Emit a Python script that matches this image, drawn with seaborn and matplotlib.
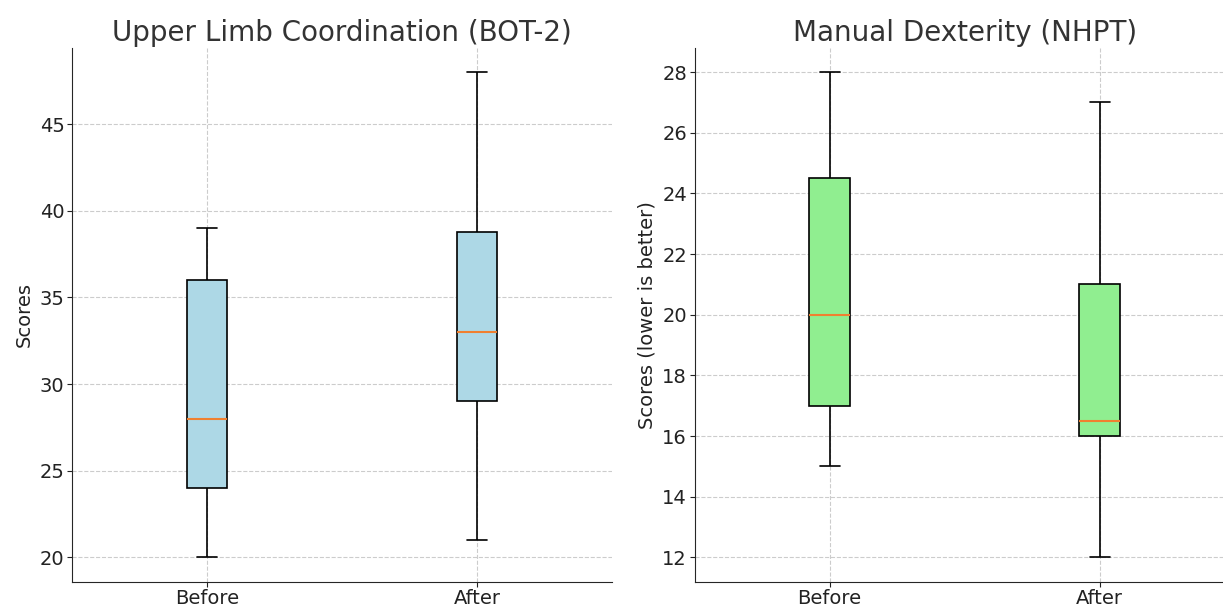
import pandas as pd
import matplotlib
matplotlib.use("Agg")
import matplotlib.pyplot as plt
import seaborn as sns

# values (min, Q1, median, Q3, max per group)
groups = ["Before", "After"]
bot2_before = [20, 24, 28, 36, 39]
bot2_after = [21, 29, 33, 38.75, 48]
nhpt_before = [15, 17, 20, 24.5, 28]
nhpt_after = [12, 16, 16.5, 21, 27]

def to_long(before, after):
    return pd.DataFrame({
        "Time": [groups[0]] * len(before) + [groups[1]] * len(after),
        "Score": before + after,
    })

bot2_df = to_long(bot2_before, bot2_after)
nhpt_df = to_long(nhpt_before, nhpt_after)

sns.set_style("ticks")
plt.rcParams["font.family"] = ["DejaVu Sans"]

fig = plt.figure(figsize=(12.23, 6.06), dpi=100)
ax1 = fig.add_axes([0.059, 0.04, 0.4415, 0.881])
ax2 = fig.add_axes([0.568, 0.04, 0.4415, 0.881])

panels = [
    (ax1, bot2_df, "lightblue", "Upper Limb Coordination (BOT-2)", "Scores"),
    (ax2, nhpt_df, "lightgreen", "Manual Dexterity (NHPT)", "Scores (lower is better)"),
]

for ax, df, col, title, ylab in panels:
    sns.boxplot(x="Time", y="Score", data=df, order=groups, ax=ax,
                color=col, saturation=1, width=0.15, whis=(0, 100),
                linecolor="black", linewidth=1.2,
                medianprops={"color": "#f08030", "linewidth": 1.5})
    ax.set_xlim(-0.5, 1.5)
    ax.set_title(title, fontsize=20, color="#333333", pad=5)
    ax.set_xlabel("")
    ax.set_ylabel(ylab, fontsize=14, color="#222222")
    ax.tick_params(labelsize=14, colors="#222222", pad=2)
    ax.grid(True, linestyle="--", color="#cccccc", linewidth=0.8)
    ax.set_axisbelow(True)
    sns.despine(ax=ax)

plt.savefig("out.png", dpi=100)
